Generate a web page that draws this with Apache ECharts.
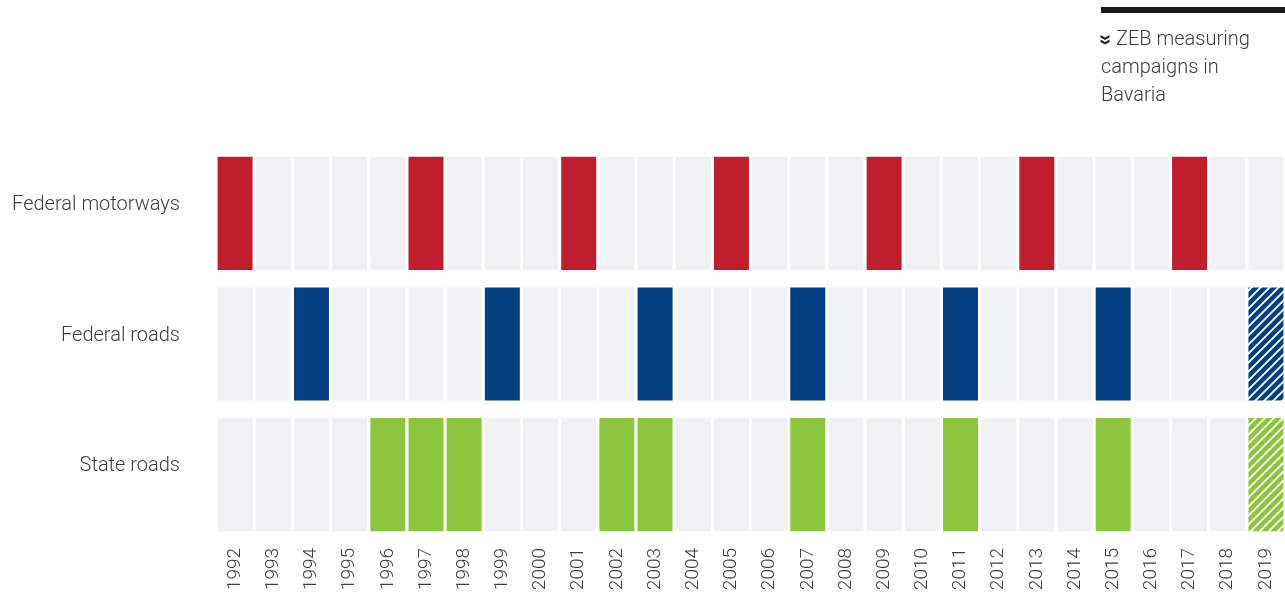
<!DOCTYPE html>
<html>
<head>
<meta charset="utf-8">
<script src="https://cdn.jsdelivr.net/npm/echarts@6/dist/echarts.min.js"></script>
<style>
  html, body { margin: 0; padding: 0; background: #ffffff; }
  #chart { width: 1285px; height: 597px; }
</style>
</head>
<body>
<div id="chart"></div>
<script>
// Years on the horizontal axis
const years = ['1992','1993','1994','1995','1996','1997','1998','1999','2000','2001',
  '2002','2003','2004','2005','2006','2007','2008','2009','2010','2011',
  '2012','2013','2014','2015','2016','2017','2018','2019'];

// Road classes, top to bottom
const roadClasses = ['Federal motorways', 'Federal roads', 'State roads'];

// Campaign years per road class
const motorwayCampaigns = ['1992','1997','2001','2005','2009','2013','2017'];
const federalRoadCampaigns = ['1994','1999','2003','2007','2011','2015'];
const stateRoadCampaigns = ['1996','1997','1998','2002','2003','2007','2011','2015'];

// Planned campaigns (drawn hatched)
const federalRoadPlanned = ['2019'];
const stateRoadPlanned = ['2019'];

const campaigns = [motorwayCampaigns, federalRoadCampaigns, stateRoadCampaigns];
const planned = [[], federalRoadPlanned, stateRoadPlanned];

const rowColors = ['#BE1E2D', '#043F80', '#8CC63F'];
const emptyColor = '#F0F1F3';

// status: 0 = no campaign, 1 = campaign, 2 = planned
const cells = [];
roadClasses.forEach((rc, r) => {
  years.forEach((y, c) => {
    let status = 0;
    if (campaigns[r].includes(y)) status = 1;
    else if (planned[r].includes(y)) status = 2;
    cells.push([c, r, status]);
  });
});

function hatchPattern(color) {
  const s = 9;
  const cv = document.createElement('canvas');
  cv.width = s; cv.height = s;
  const ctx = cv.getContext('2d');
  ctx.fillStyle = color;
  ctx.fillRect(0, 0, s, s);
  ctx.strokeStyle = '#ffffff';
  ctx.lineWidth = 1.8;
  ctx.beginPath();
  ctx.moveTo(-1, s + 1); ctx.lineTo(s + 1, -1);
  ctx.moveTo(-2, 2); ctx.lineTo(2, -2);
  ctx.moveTo(s - 2, s + 2); ctx.lineTo(s + 2, s - 2);
  ctx.stroke();
  return { image: cv, repeat: 'repeat' };
}
const hatches = rowColors.map(hatchPattern);

const chart = echarts.init(document.getElementById('chart'), null, { renderer: 'canvas' });
const font = 'Roboto, Liberation Sans, Arial, sans-serif';
const textColor = '#3c3c3c';

chart.setOption({
  animation: false,
  grid: { left: 216, right: 0, top: 148, bottom: 57 },
  xAxis: {
    type: 'category',
    data: years,
    axisLine: { show: false },
    axisTick: { show: false },
    splitLine: { show: false },
    axisLabel: {
      rotate: 90,
      margin: 8,
      fontSize: 19,
      fontWeight: 300,
      color: textColor,
      fontFamily: font,
      interval: 0
    }
  },
  yAxis: {
    type: 'category',
    data: roadClasses,
    inverse: true,
    axisLine: { show: false },
    axisTick: { show: false },
    splitLine: { show: false },
    axisLabel: {
      margin: 36,
      fontSize: 20,
      fontWeight: 300,
      color: textColor,
      fontFamily: font,
      verticalAlign: 'bottom',
      lineHeight: 17
    }
  },
  series: [{
    type: 'custom',
    data: cells,
    encode: { x: 0, y: 1 },
    renderItem: function (params, api) {
      const c = api.value(0), r = api.value(1), st = api.value(2);
      const center = api.coord([c, r]);
      const size = api.size([1, 1]);
      const w = size[0] - 3.2;
      const h = size[1] - 17.5;
      let fill = emptyColor;
      if (st === 1) fill = rowColors[r];
      else if (st === 2) fill = hatches[r];
      return {
        type: 'rect',
        shape: { x: center[0] - w / 2, y: center[1] - h / 2, width: w, height: h },
        style: { fill: fill }
      };
    }
  }],
  graphic: [
    { type: 'rect', left: 1101, top: 7, shape: { width: 184, height: 6 }, style: { fill: '#1a1a1a' } },
    { type: 'polygon', shape: { points: [[1100.5,35],[1105,37.5],[1109.5,35],[1109.5,37.5],[1105,40],[1100.5,37.5]] }, style: { fill: '#222' } },
    { type: 'polygon', shape: { points: [[1100.5,39.5],[1105,42],[1109.5,39.5],[1109.5,42],[1105,44.5],[1100.5,42]] }, style: { fill: '#222' } },
    { type: 'text', left: 1116, top: 30, style: { text: 'ZEB measuring', fontSize: 20, fontWeight: 300, fill: textColor, fontFamily: font } },
    { type: 'text', left: 1101, top: 58, style: { text: 'campaigns in', fontSize: 20, fontWeight: 300, fill: textColor, fontFamily: font } },
    { type: 'text', left: 1101, top: 86, style: { text: 'Bavaria', fontSize: 20, fontWeight: 300, fill: textColor, fontFamily: font } }
  ]
});
</script>
</body>
</html>
